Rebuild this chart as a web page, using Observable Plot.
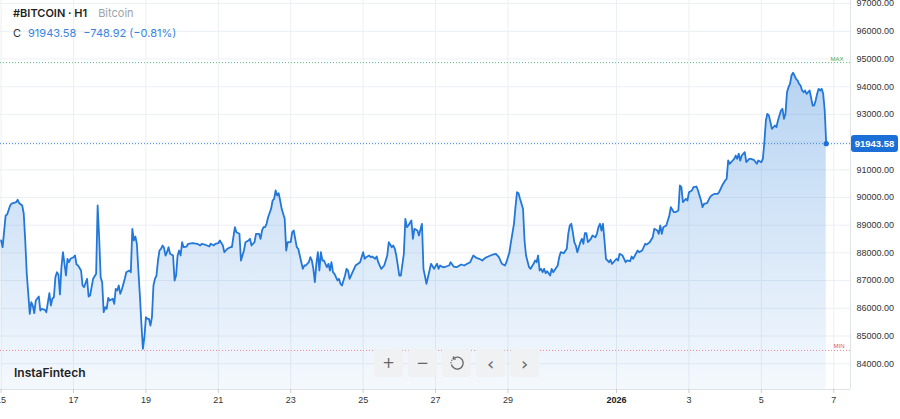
<!DOCTYPE html>
<html>
<head>
<meta charset="utf-8">
<script src="https://cdn.jsdelivr.net/npm/d3@7"></script>
<script src="https://cdn.jsdelivr.net/npm/@observablehq/plot@0.6"></script>
<style>
html,body{margin:0;padding:0;background:#fff;}
#wrap{position:relative;width:900px;height:419px;overflow:hidden;}
.hdr{position:absolute;left:13px;font-family:Inter,"Noto Sans",sans-serif;font-size:11px;white-space:nowrap;line-height:14px;}
.btn{position:absolute;top:349px;width:29px;height:28px;background:#f0f1f3;border-radius:4px;display:flex;align-items:center;justify-content:center;color:#666;font-family:"DejaVu Sans",sans-serif;font-size:15px;}
.logo{position:absolute;left:14px;top:365px;font-family:Inter,sans-serif;font-weight:600;font-size:12px;color:#222;}
.plabel{position:absolute;left:851px;width:47px;height:17px;background:#1c6fd6;border-radius:3px;color:#fff;font-family:"Liberation Sans",Arial,sans-serif;font-size:9.5px;font-weight:bold;display:flex;align-items:center;justify-content:center;}
</style>
</head>
<body>
<div id="wrap"></div>
<script>
// ---- Data ----
const symbol = "#BITCOIN · H1";
const instrument = "Bitcoin";
const lastPrice = 91943.58;
const change = -748.92;
const changePct = -0.81;
const maxLevel = 94870;
const minLevel = 84480;
const startDate = "2025-12-15T00:00:00Z"; // hours below are counted from here (H1 closes)

const hours = [
  0,1,3,4,6,7,10,11,12,14,
  15,16,17,19,20,21,22,23,25,26,
  27,29,30,32,33,34,35,36,37,38,
  39,40,41,42,43,44,45,46,48,49,
  50,51,53,54,55,57,58,59,60,61,
  63,64,65,66,67,68,69,70,71,72,
  74,75,76,77,78,79,80,82,83,85,
  86,87,88,89,90,91,92,93,94,95,
  96,97,98,99,100,101,102,103,104,105,
  106,107,108,109,110,111,112,114,115,116,
  117,118,119,120,121,123,124,127,130,132,
  133,135,138,139,141,142,144,145,147,148,
  149,150,152,153,155,156,158,159,161,162,
  164,165,166,168,169,171,172,173,174,175,
  176,177,179,180,181,182,183,184,185,186,
  188,189,190,192,193,194,195,196,197,198,
  200,201,202,204,205,206,207,208,209,210,
  211,212,213,214,216,217,218,219,220,221,
  222,223,224,225,226,227,228,229,230,231,
  232,233,234,235,238,240,241,242,244,245,
  246,248,249,250,252,254,255,256,257,259,
  260,261,262,263,264,265,267,268,269,270,
  272,273,274,276,277,279,280,282,284,285,
  287,289,290,291,293,295,297,298,300,302,
  305,307,309,311,313,315,317,319,321,323,
  326,328,330,332,334,335,337,338,340,341,
  342,343,344,345,346,347,348,350,351,353,
  354,355,356,357,358,359,360,361,362,364,
  365,366,368,369,370,371,373,375,376,377,
  378,379,380,381,382,384,385,386,387,388,
  389,391,392,394,395,396,397,398,399,400,
  401,403,404,405,407,408,409,410,412,414,
  415,417,418,419,422,423,425,427,428,430,
  432,433,435,436,437,438,439,441,443,444,
  446,447,449,450,451,452,454,455,456,458,
  459,461,462,464,465,466,468,470,471,473,
  475,476,478,480,481,482,483,485,486,487,
  488,489,490,491,493,494,496,497,499,501,
  502,504,505,506,507,508,509,510,511,513,
  514,515,517,518,519,520,521,522,523,524,
  525,526,527,528,529,530,531,532,533,534,
  535,536,538,539,540,541,542,543,544,545,
  546,547
];

const closes = [
  88448,88206,89350,89386,89711,89783,89830,89917,89794,89711,
  89422,88448,87256,85801,86220,86101,85823,86282,86426,85921,
  85982,85946,85859,86545,86101,86354,86401,87123,87303,87220,
  86498,87484,88025,87617,87184,87787,87664,87787,87845,87906,
  87581,87545,87365,86823,86762,87065,86426,86462,86762,87065,
  87246,89711,88567,87123,86942,85859,86040,85982,86379,86282,
  86343,86163,86704,86643,86823,86524,86668,87065,87303,87365,
  87303,88870,88448,88592,88329,87365,86462,85441,84538,84957,
  85679,85621,85621,85379,85679,86823,87065,87184,87726,88087,
  88148,88267,88184,87906,88025,88206,87968,87906,87004,87184,
  87906,88087,87906,88386,88206,88231,88329,88350,88329,88267,
  88329,88303,88231,88329,88267,88329,88350,88448,88267,88025,
  88087,88148,88206,88206,88928,88747,88690,87726,88087,88386,
  88448,88509,88267,88386,88690,88690,88509,88809,88928,88928,
  89051,89289,89592,89892,89953,90253,90072,90155,89892,89592,
  89231,88087,88386,88386,88747,88809,88509,88206,88148,87906,
  87426,87545,87545,87664,87845,87726,87426,86942,87606,88025,
  87365,88025,87726,87726,87484,87606,87365,87664,87303,87246,
  87123,87004,87065,86885,86823,87004,87184,87426,87365,87065,
  87184,87303,87426,87545,87664,88025,87787,87845,87906,87845,
  87870,87787,87870,87664,87426,87545,87726,87906,88386,88206,
  88267,88148,87906,87545,87184,87184,87968,89231,88928,88989,
  89170,88509,88870,88809,88628,89051,87426,86885,87365,87606,
  87426,87606,87426,87545,87480,87509,87545,87664,87509,87484,
  87581,87545,87606,87664,87906,87823,87787,87726,87823,87870,
  87942,87968,87845,87606,87545,87664,88025,88386,89051,89650,
  90191,90155,89953,89773,89592,88448,87906,87484,87426,87606,
  87726,87664,87906,87365,87426,87303,87426,87267,87339,87184,
  87426,87303,87462,87545,87845,88025,87989,88148,88690,88989,
  89051,88747,88386,88267,88025,88386,88509,88329,88715,88715,
  88386,88509,88628,88567,88690,88928,89051,88809,89051,88448,
  87787,87664,87751,87606,87726,87787,87726,87968,87906,87664,
  87726,87700,87870,87787,88087,88025,88087,88329,88303,88386,
  88567,88870,88809,88690,88989,88690,88928,88989,89350,89650,
  89469,89469,89531,90433,90372,89830,89953,89892,90191,90253,
  90372,90397,90253,89892,89650,89773,89794,90011,90072,90134,
  90134,90191,90433,90614,90675,91336,91217,91336,91397,91516,
  91397,91578,91336,91516,91635,91274,91397,91397,91361,91217,
  91336,91274,91397,91996,92780,93022,92960,92718,92480,92599,
  92538,92780,93141,93202,92841,93022,93801,93982,94105,94404,
  94502,94404,94285,94224,94105,94043,93863,93801,93863,93743,
  93801,93863,93321,93321,93502,93743,93924,93863,93924,93743,
  93141,91943.58
];

const yTicks = [84000,85000,86000,87000,88000,89000,90000,91000,92000,93000,94000,95000,96000,97000];
const xTickDates = ["2025-12-15","2025-12-17","2025-12-19","2025-12-21","2025-12-23","2025-12-25","2025-12-27","2025-12-29","2026-01-01","2026-01-03","2026-01-05","2026-01-07"];
const xTickLabels = ["15","17","19","21","23","25","27","29","2026","3","5","7"];
const xDomainDates = ["2025-12-14T23:36:00Z","2026-01-07T11:06:00Z"];
const yDomain = [83069, 97112];

// ---- Build ----
const t0 = new Date(startDate).getTime();
const data = hours.map((h, i) => ({time: new Date(t0 + h * 3600e3), close: closes[i]}));
const last = data[data.length - 1];
const tickDates = xTickDates.map(s => new Date(s + "T00:00:00Z"));
const labelOf = new Map(tickDates.map((d, i) => [+d, xTickLabels[i]]));
const boldTicks = tickDates.filter((d, i) => xTickLabels[i].length === 4);
const normalTicks = tickDates.filter((d, i) => xTickLabels[i].length !== 4);
const fmt = d3.format(".2f");

const chart = Plot.plot({
  width: 900,
  height: 419,
  marginLeft: 0,
  marginRight: 50,
  marginTop: 0,
  marginBottom: 30,
  style: {fontFamily: "'Liberation Sans', Arial, sans-serif", fontSize: "9px", color: "#333", background: "transparent", overflow: "visible"},
  x: {type: "utc", domain: xDomainDates.map(s => new Date(s)), label: null},
  y: {domain: yDomain, label: null},
  marks: [
    Plot.gridY(yTicks, {stroke: "#eceff3", strokeOpacity: 1}),
    Plot.gridX(tickDates, {stroke: "#eceff3", strokeOpacity: 1}),
    Plot.areaY(data, {x: "time", y1: yDomain[0], y2: "close", fill: "url(#btcFill)"}),
    Plot.ruleY([maxLevel], {stroke: "#5cc28c", strokeDasharray: "1,2"}),
    Plot.ruleY([minLevel], {stroke: "#f0899a", strokeDasharray: "1,2"}),
    Plot.ruleY([lastPrice], {stroke: "#3a84e0", strokeDasharray: "1,2"}),
    Plot.ruleY([yDomain[0]], {stroke: "#dfe3e8"}),
    Plot.ruleX([new Date(xDomainDates[1])], {stroke: "#dfe3e8"}),
    Plot.line(data, {x: "time", y: "close", stroke: "#2277d8", strokeWidth: 1.8}),
    Plot.dot([last], {x: "time", y: "close", r: 2.6, fill: "#1f6fd6"}),
    Plot.text([maxLevel], {y: d => d, text: d => "MAX", frameAnchor: "right", dx: -7, dy: -4, textAnchor: "end", fill: "#3fae6a", fontSize: 6}),
    Plot.text([minLevel], {y: d => d, text: d => "MIN", frameAnchor: "right", dx: -6, dy: -4, textAnchor: "end", fill: "#e0506a", fontSize: 6}),
    Plot.axisY(yTicks, {anchor: "right", tickSize: 0, tickPadding: 6, tickFormat: fmt, fill: "#333", fontSize: 9}),
    Plot.axisX(normalTicks, {anchor: "bottom", tickSize: 4, tickPadding: 3, stroke: "#c9ced5", fill: "#333", tickFormat: d => labelOf.get(+d), fontSize: 9}),
    Plot.axisX(boldTicks, {anchor: "bottom", tickSize: 4, tickPadding: 3, stroke: "#c9ced5", fill: "#222", fontWeight: "bold", tickFormat: d => labelOf.get(+d), fontSize: 9})
  ]
});

// gradient fill for the area
const svgSel = d3.select(chart);
const lg = svgSel.insert("defs", ":first-child").append("linearGradient")
  .attr("id", "btcFill").attr("x1", 0).attr("y1", 0).attr("x2", 0).attr("y2", 1);
lg.append("stop").attr("offset", "0%").attr("stop-color", "#2b7fd9").attr("stop-opacity", 0.34);
lg.append("stop").attr("offset", "100%").attr("stop-color", "#2b7fd9").attr("stop-opacity", 0.05);

const wrap = document.getElementById("wrap");
wrap.appendChild(chart);

// current price label placed with the library's y scale
const py = chart.scale("y").apply(lastPrice);
const pl = document.createElement("div");
pl.className = "plabel";
pl.style.top = (py - 8.5) + "px";
pl.textContent = fmt(lastPrice);
wrap.appendChild(pl);

// header
const h1 = document.createElement("div");
h1.className = "hdr";
h1.style.top = "6px";
h1.innerHTML = `<span style="color:#1f1f1f;font-weight:600">${symbol}</span><span style="color:#9ea3ab;margin-left:11px">${instrument}</span>`;
wrap.appendChild(h1);
const h2 = document.createElement("div");
h2.className = "hdr";
h2.style.top = "26px";
h2.innerHTML = `<span style="color:#333">C</span><span style="color:#3a84e0;margin-left:7px">${fmt(lastPrice)}</span><span style="color:#3a84e0;margin-left:7px">${fmt(change)} (${fmt(changePct)}%)</span>`;
wrap.appendChild(h2);

// logo
const logo = document.createElement("div");
logo.className = "logo";
logo.textContent = "InstaFintech";
wrap.appendChild(logo);

// navigation buttons
const btnIcons = ["+", "\u2212", "reset", "\u2039", "\u203A"];
btnIcons.forEach((ic, i) => {
  const b = document.createElement("div");
  b.className = "btn";
  b.style.left = (374 + i * 34) + "px";
  if (ic === "reset") {
    b.innerHTML = `<svg width="16" height="16" viewBox="0 0 16 16"><path d="M4.2 3.6 A6 6 0 1 1 2.4 9.5" fill="none" stroke="#666" stroke-width="1.3"/><path d="M2 8.2 A6 6 0 0 1 4.2 3.6" fill="none" stroke="#666" stroke-width="1.3" stroke-dasharray="1.2,1.2"/><path d="M4.6 1.4 L4.3 4 L6.9 4.1" fill="none" stroke="#666" stroke-width="1.3"/></svg>`;
  } else {
    b.textContent = ic;
    if (ic === "\u2039" || ic === "\u203A") b.style.fontSize = "18px";
  }
  wrap.appendChild(b);
});
</script>
</body>
</html>
